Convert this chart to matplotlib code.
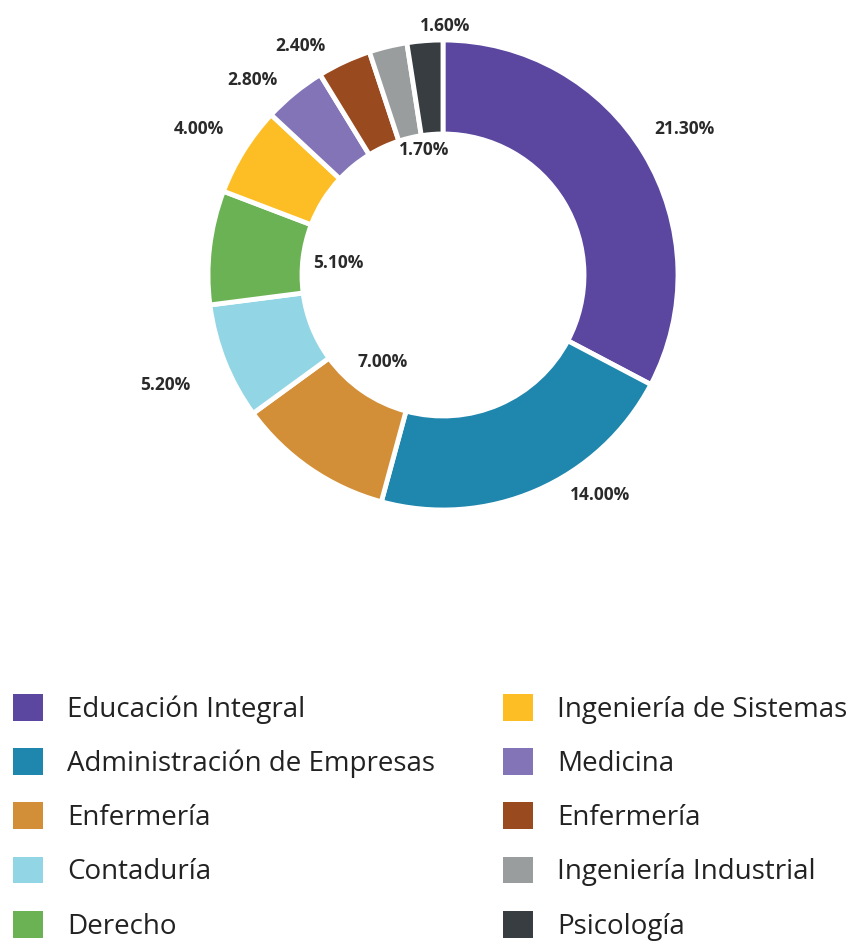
import numpy as np
import matplotlib.pyplot as plt
from matplotlib.patches import Patch

plt.rcParams['font.family'] = ['Open Sans', 'DejaVu Sans']

# Datos del gráfico
carreras = ['Educación Integral', 'Administración de Empresas', 'Enfermería',
            'Contaduría', 'Derecho', 'Ingeniería de Sistemas', 'Medicina',
            'Enfermería', 'Ingeniería Industrial', 'Psicología']
porcentajes = [21.30, 14.00, 7.00, 5.20, 5.10, 4.00, 2.80, 2.40, 1.70, 1.60]
colores = ['#5B47A0', '#1F86AD', '#D38F37', '#92D6E5', '#6BB255',
           '#FDBE25', '#8274B6', '#9A4A1F', '#9A9D9E', '#383D42']

# posición de las etiquetas (distancia radial y desfase angular)
dist_etiqueta = [1.20, 1.15, 0.45, 1.27, 0.45, 1.21, 1.16, 1.15, 0.54, 1.06]
desfase_etiqueta = [0, 12, 0, 0, 0, 1, 5, 7, -5, -5]

W, H = 856, 941
fig = plt.figure(figsize=(W / 100, H / 100), dpi=100)

# el eje se coloca para que el centro quede en (443, 275) px y radio 235 px
R_px = 235
a = 1.3
cx, cy = 443, 275
ax = fig.add_axes([(cx - a * R_px) / W, (H - cy - a * R_px) / H,
                   2 * a * R_px / W, 2 * a * R_px / H])

wedges, _ = ax.pie(porcentajes, colors=colores, startangle=90, counterclock=False,
                   radius=1, wedgeprops=dict(width=0.40, edgecolor='white', linewidth=3.5))
ax.set_xlim(-a, a)
ax.set_ylim(-a, a)
ax.set_aspect('equal')
ax.axis('off')

for w, p, d, off in zip(wedges, porcentajes, dist_etiqueta, desfase_etiqueta):
    ang = np.deg2rad((w.theta1 + w.theta2) / 2 + off)
    ax.text(d * np.cos(ang), d * np.sin(ang), f'{p:.2f}%', ha='center', va='center',
            fontsize=12.5, fontweight='bold', color='#2A2A2A', clip_on=False)

handles = [Patch(facecolor=c, edgecolor='none') for c in colores]
fig.legend(handles, carreras, ncol=2, loc='upper left', bbox_to_anchor=(-0.0145, 0.289),
           frameon=False, fontsize=20, handlelength=1.1, handleheight=1.1,
           handletextpad=0.86, columnspacing=2.43, labelspacing=0.88, labelcolor='#222222')

fig.savefig('out.png', dpi=100)
